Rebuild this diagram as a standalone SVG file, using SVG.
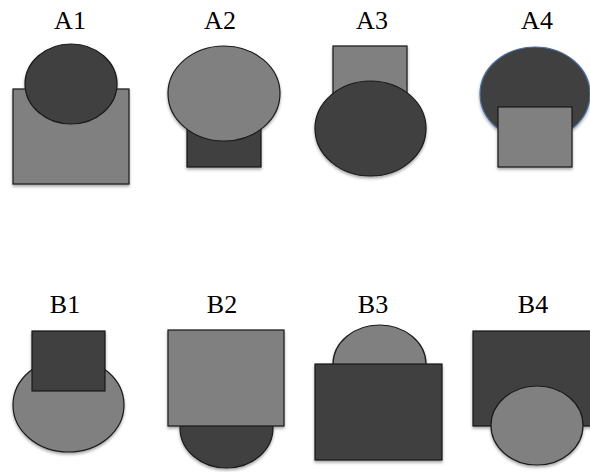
<svg xmlns="http://www.w3.org/2000/svg" width="590" height="472" viewBox="0 0 590 472">
<defs>
<filter id="sh" x="-20%" y="-20%" width="140%" height="140%">
<feGaussianBlur in="SourceAlpha" stdDeviation="1.5"/>
<feOffset dx="0" dy="2" result="b"/>
<feComponentTransfer><feFuncA type="linear" slope="0.35"/></feComponentTransfer>
<feMerge><feMergeNode/><feMergeNode in="SourceGraphic"/></feMerge>
</filter>
</defs>
<style>
.lbl{font-family:"Liberation Serif","Times New Roman",serif;font-size:26px;fill:#000;text-anchor:middle}
.dk{fill:#404040;stroke:#1a1a1a;stroke-width:1.2}
.lt{fill:#808080;stroke:#1a1a1a;stroke-width:1.2}
.sh{filter:url(#sh)}
</style>
<rect width="590" height="472" fill="#fff"/>
<g id="A1">
<text class="lbl" x="70" y="29">A1</text>
<g class="sh">
<rect class="lt" x="13" y="89" width="116" height="95"/>
<ellipse class="dk" cx="71" cy="84" rx="46" ry="40"/>
</g>
</g>
<g id="A2">
<text class="lbl" x="220" y="29">A2</text>
<g class="sh">
<rect class="dk" x="187" y="120" width="74" height="47"/>
<ellipse class="lt" cx="224" cy="93.5" rx="56" ry="47.5"/>
</g>
</g>
<g id="A3">
<text class="lbl" x="372" y="29">A3</text>
<g class="sh">
<rect class="lt" x="333" y="46" width="74" height="64"/>
<ellipse class="dk" cx="370.5" cy="128.5" rx="55.5" ry="47.5"/>
</g>
</g>
<g id="A4">
<text class="lbl" x="537" y="29">A4</text>
<g class="sh">
<ellipse cx="535" cy="94" rx="55" ry="47" fill="#404040" stroke="#4a6fa5" stroke-width="1.2"/>
<rect class="lt" x="498" y="107" width="74" height="60"/>
</g>
</g>
<g id="B1">
<text class="lbl" x="65" y="313">B1</text>
<g class="sh">
<ellipse class="lt" cx="68.5" cy="405" rx="55.5" ry="47"/>
<rect class="dk" x="32" y="331" width="73" height="60"/>
</g>
</g>
<g id="B2">
<text class="lbl" x="222" y="313">B2</text>
<g class="sh">
<ellipse class="dk" cx="226.5" cy="428" rx="46.5" ry="40"/>
<rect class="lt" x="168" y="330" width="116" height="96"/>
</g>
</g>
<g id="B3">
<text class="lbl" x="373" y="313">B3</text>
<g class="sh">
<ellipse class="lt" cx="379.5" cy="364" rx="46.5" ry="39"/>
<rect class="dk" x="315" y="364" width="127" height="96"/>
</g>
</g>
<g id="B4">
<text class="lbl" x="533" y="313">B4</text>
<g class="sh">
<rect class="dk" x="473" y="331" width="125" height="95"/>
<ellipse class="lt" cx="537" cy="425.5" rx="46" ry="39.5"/>
</g>
</g>
</svg>
